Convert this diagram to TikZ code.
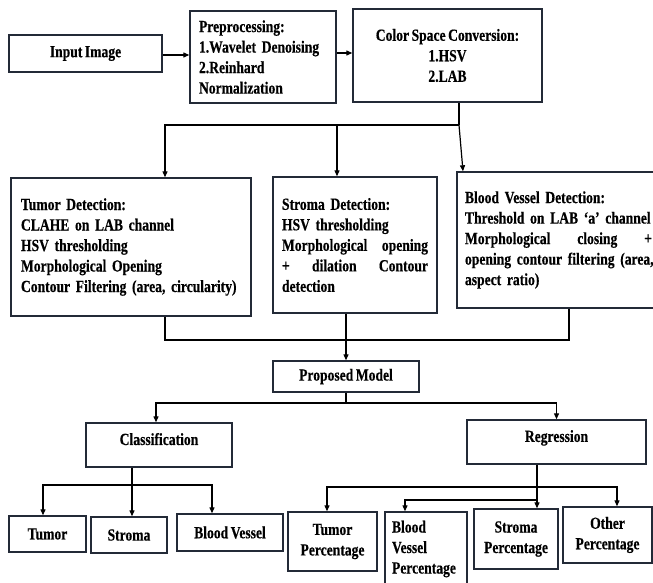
\documentclass[tikz,border=0pt]{standalone}
\usepackage{fontspec}
\setmainfont{Liberation Serif}[FakeStretch=0.8, FakeBold=0.4, WordSpace=0.75]
\usetikzlibrary{arrows.meta}
\definecolor{boxline}{RGB}{35,42,55}
\begin{document}
\begin{tikzpicture}[x=1pt,y=-1pt,
  every node/.style={font=\fontsize{17}{20.5}\selectfont\bfseries, inner sep=0pt, text=black},
  box/.style={draw=boxline, line width=1.4pt, fill=white},
  arr/.style={line width=1.2pt, -{Triangle[length=6pt,width=5pt]}},
  ln/.style={line width=1.2pt}]
\clip (0,0) rectangle (653,583);
\fill[white] (0,0) rectangle (653,583);

% top row
\node[box, minimum width=153pt, minimum height=37pt] (inp) at (85.5,53.5) {Input Image};
\node[box, minimum width=146pt, minimum height=92pt, text width=128pt, align=left] (pre) at (263,57)
  {Preprocessing:\\1.Wavelet Denoising\\2.Reinhard\\Normalization};
\node[box, minimum width=189pt, minimum height=93pt, align=center] (csc) at (447.5,55.5)
  {Color Space Conversion:\\1.HSV\\2.LAB};

% detection row
\node[box, minimum width=240pt, minimum height=138pt, text width=220pt, align=left] (tum) at (131,247)
  {Tumor Detection:\\CLAHE on LAB channel\\HSV thresholding\\Morphological Opening\\Contour Filtering (area, circularity)};
\node[box, minimum width=164pt, minimum height=136pt, text width=146pt, align=left] (str) at (355,245)
  {Stroma Detection:\\HSV thresholding\\Morphological \hfill opening\\+ \hfill dilation \hfill Contour\\detection};
\node[box, minimum width=203pt, minimum height=136pt, text width=187pt, align=left] (bvd) at (558.5,240)
  {Blood Vessel Detection:\\Threshold on LAB ‘a’ channel\\Morphological \hfill closing \hfill +\\\mbox{opening contour filtering (area,}\\aspect ratio)};

% model
\node[box, minimum width=146pt, minimum height=31pt] (pm) at (346,376.5) {Proposed Model};
\node[box, minimum width=146pt, minimum height=44pt, text depth=12pt] (cls) at (159,445) {Classification};
\node[box, minimum width=179pt, minimum height=44pt, text depth=12pt] (reg) at (556.5,442) {Regression};

% outputs
\node[box, minimum width=77pt, minimum height=36pt] (t) at (47.5,534) {Tumor};
\node[box, minimum width=76pt, minimum height=36pt] (s) at (129,535) {Stroma};
\node[box, minimum width=106pt, minimum height=37pt] (bv) at (230,532.5) {Blood Vessel};
\node[box, minimum width=89pt, minimum height=59pt, align=center] (tp) at (332.5,541.5) {Tumor\\Percentage};
\node[box, minimum width=82pt, minimum height=74pt, text width=68pt, align=left] (bvp) at (426,549) {Blood\\Vessel\\Percentage};
\node[box, minimum width=84pt, minimum height=60pt, align=center] (sp) at (516,539) {Stroma\\Percentage};
\node[box, minimum width=89pt, minimum height=56pt, align=center] (op) at (607.5,535) {Other\\Percentage};

% connectors top
\draw[arr] ([yshift=-1.5pt]inp.east) -- ([yshift=-1.5pt]inp.east -| pre.west);
\draw[arr] ([yshift=4pt]pre.east) -- ([yshift=4pt]pre.east -| csc.west);

\coordinate (j1) at (459,125);
\draw[ln] ([xshift=11.5pt]csc.south) -- (j1);
\draw[arr] (j1) -| ([xshift=34pt]tum.north);
\draw[arr] ([xshift=-18pt]str.north |- j1) -- ([xshift=-18pt]str.north);
\draw[arr] (j1) -- ([xshift=-95.5pt]bvd.north);

\coordinate (j2) at (346,340);
\draw[ln] ([xshift=34pt]tum.south) |- (j2);
\draw[ln] ([xshift=10.5pt]bvd.south) |- (j2);
\draw[arr] ([xshift=-9pt]str.south) -- (pm.north);

\coordinate (j3) at (346,403);
\draw[ln] (pm.south) -- (j3);
\draw[arr] (j3) -| ([xshift=-3pt]cls.north);
\draw[arr] (j3) -| (reg.north);

\coordinate (j4) at (132,485);
\draw[ln] ([xshift=-27pt]cls.south) -- (j4);
\draw[arr] (j4) -| ([xshift=-4.5pt]t.north);
\draw[arr] (j4) -- (j4 |- s.north);
\draw[arr] (j4) -| ([xshift=-18pt]bv.north);

\coordinate (j5) at (537,487);
\coordinate (j6) at (537,500);
\draw[ln] ([xshift=-19.5pt]reg.south) -- (j5);
\draw[arr] (j5) -| ([xshift=-5.5pt]tp.north);
\draw[arr] (j5) -| ([xshift=9.5pt]op.north);
\draw[arr] (j5) -- (j5 |- sp.north);
\draw[arr] (j6) -| ([xshift=-21pt]bvp.north);
\end{tikzpicture}
\end{document}
